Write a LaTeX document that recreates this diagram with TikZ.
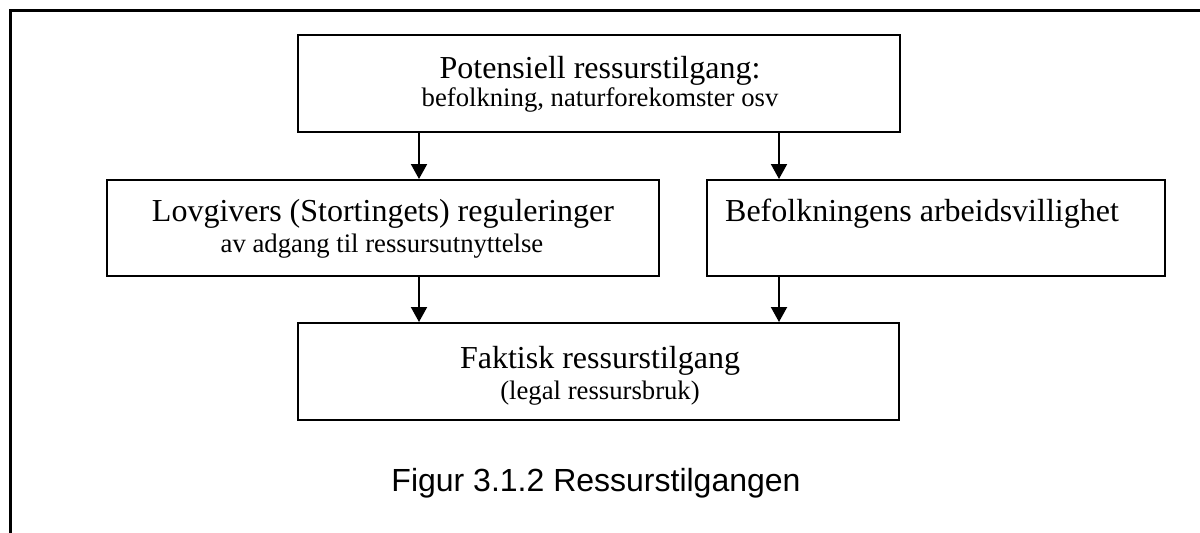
\documentclass[tikz,border=0pt]{standalone}
\usepackage{fontspec}
\setmainfont{Liberation Serif}
\newfontfamily\capfont{Liberation Sans}
\usetikzlibrary{arrows.meta}
\begin{document}
\begin{tikzpicture}[x=1pt,y=-1pt,
  box/.style={draw=black,line width=2pt,rectangle,inner sep=0pt,anchor=center},
  bigtext/.style={anchor=base,inner sep=0pt,font=\fontsize{32}{36}\selectfont},
  smalltext/.style={anchor=base,inner sep=0pt,font=\fontsize{26.7}{30}\selectfont},
  conn/.style={line width=2pt,-{Triangle[width=16pt,length=15pt]}},
  frame/.style={line width=3pt}]
\useasboundingbox (0,0) rectangle (1200,533);
\fill[white] (0,0) rectangle (1200,533);
% outer frame
\coordinate (fbl) at (10,533);
\coordinate (ftl) at (10,10);
\coordinate (ftr) at (1200,10);
\draw[frame] (fbl) -- (ftl) -- (ftr);
% boxes
\node[box,minimum width=602pt,minimum height=97pt] (top) at (599,83.5) {};
\node[box,minimum width=552pt,minimum height=96pt] (ml) at (383,228) {};
\node[box,minimum width=458pt,minimum height=96pt] (mr) at (936,228) {};
\node[box,minimum width=601pt,minimum height=97pt] (bot) at (598.5,371.5) {};
% texts
\node[bigtext] (t1) at (600,78) {Potensiell ressurstilgang:};
\node[smalltext] (t2) at (600,106) {befolkning, naturforekomster osv};
\node[bigtext] (l1) at (383,221) {Lovgivers (Stortingets) reguleringer};
\node[smalltext] (l2) at (382,252) {av adgang til ressursutnyttelse};
\node[bigtext] (r1) at (922,221) {Befolkningens arbeidsvillighet};
\node[bigtext] (b1) at (600,368) {Faktisk ressurstilgang};
\node[smalltext] (b2) at (600,399) {(legal ressursbruk)};
\node[anchor=base,inner sep=0pt,font=\capfont\fontsize{32}{36}\selectfont] (cap) at (596,491) {Figur 3.1.2 Ressurstilgangen};
% connectors
\coordinate (xa) at (419,0);
\coordinate (xb) at (779,0);
\draw[conn] (top.south -| xa) -- (ml.north -| xa);
\draw[conn] (top.south -| xb) -- (mr.north -| xb);
\draw[conn] (ml.south -| xa) -- (bot.north -| xa);
\draw[conn] (mr.south -| xb) -- (bot.north -| xb);
\end{tikzpicture}
\end{document}
